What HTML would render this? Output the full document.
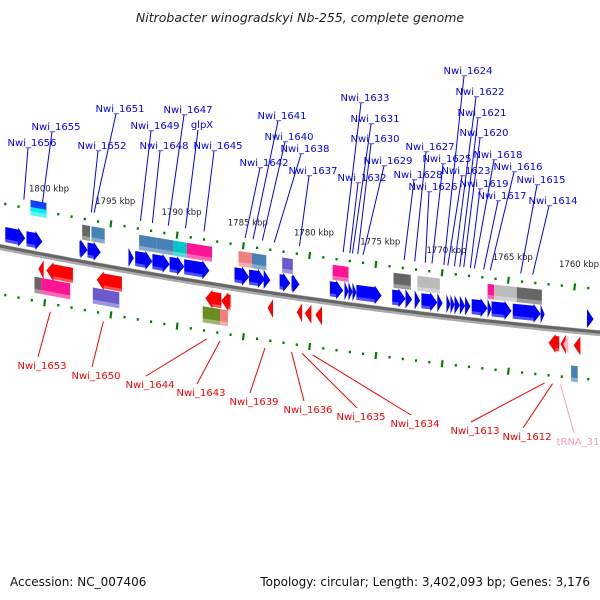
<!DOCTYPE html>
<html><head><meta charset="utf-8"><style>
html,body{margin:0;padding:0;background:#fff;}
svg{display:block;}
text{font-family:"DejaVu Sans","Liberation Sans",sans-serif;}
</style></head><body>
<svg id="map" width="600" height="600" viewBox="0 0 600 600">
<text x="300" y="22" text-anchor="middle" font-size="12.5" font-style="italic" fill="#222">Nitrobacter winogradskyi Nb-255, complete genome</text>
<text x="10" y="586" font-size="12" fill="#111">Accession: NC_007406</text>
<text x="590" y="586" text-anchor="end" font-size="12" fill="#111">Topology: circular; Length: 3,402,093 bp; Genes: 3,176</text>
<g id="g-rings"></g><g id="g-backbone"></g><g id="g-genes"></g><g id="g-labels"></g>
</svg>
<script>
// ---- data (kbp) ----
const tickStart = 1758, tickEnd = 1803;
const fwdStart = [1803.0,1801.4,1797.4,1796.8,1793.7,1793.2,1791.9,1790.6,1789.5,1785.7,1784.6,1783.5,1782.3,1781.4,1778.5,1777.4,1777.1,1776.8,1776.5,1773.8,1772.8,1772.1,1771.6,1770.4,1769.7,1769.4,1769.1,1768.7,1768.3,1767.8,1766.6,1766.3,1764.7,1762.6,1759.1];
const fwdEnd   = [1801.5,1800.2,1796.8,1795.8,1793.3,1791.9,1790.6,1789.5,1787.6,1784.6,1783.4,1783.0,1781.5,1780.8,1777.5,1777.1,1776.8,1776.5,1774.6,1772.8,1772.3,1771.7,1770.4,1770.0,1769.4,1769.1,1768.7,1768.3,1767.9,1766.6,1766.3,1764.8,1762.6,1762.3,1758.6];
const fwdBoxStart = [1801.1,1797.2,1796.5,1792.9,1791.6,1790.3,1789.3,1785.4,1784.4,1782.1,1778.3,1773.7,1771.9,1766.6,1766.1,1764.4];
const fwdBoxEnd   = [1799.9,1796.6,1795.5,1791.6,1790.3,1789.3,1787.4,1784.4,1783.3,1781.3,1777.1,1772.4,1770.2,1766.1,1764.4,1762.5];
const fwdBoxColor = ["#1040ff","#666666","#4682b4","#4682b4","#4682b4","#00c8c8","#ff1493","#f08080","#4682b4","#6a5acd","#ff1493","#666666","#bbbbbb","#ff1493","#bbbbbb","#666666"];
const revStart = [1800.5,1799.9,1796.1,1787.9,1786.7,1783.2,1781.0,1780.4,1779.6,1762.0,1761.1,1760.1];
const revEnd   = [1800.1,1797.9,1794.2,1786.7,1786.0,1782.8,1780.6,1779.9,1779.1,1761.2,1760.7,1759.6];
const revColor = ["#ff0000","#ff0000","#ff0000","#ff0000","#ff0000","#ff0000","#ff0000","#ff0000","#ff0000","#ff0000","#ff0000","#ff0000"];
const trnaStart = [1760.9], trnaEnd = [1760.5];
const revBoxStart = [1800.8,1800.3,1796.4,1788.1,1786.8,1760.3];
const revBoxEnd   = [1800.3,1798.1,1794.4,1786.8,1786.2,1759.8];
const revBoxColor = ["#666666","#ff1493","#6a5acd","#6b8e23","#f08080","#4682b4"];
const blueNames = ["Nwi_1656","Nwi_1655","Nwi_1652","Nwi_1651","Nwi_1649","Nwi_1648","Nwi_1647","glpX","Nwi_1645","Nwi_1641","Nwi_1640","Nwi_1642","Nwi_1638","Nwi_1637","Nwi_1633","Nwi_1631","Nwi_1630","Nwi_1629","Nwi_1632","Nwi_1628","Nwi_1627","Nwi_1626","Nwi_1625","Nwi_1624","Nwi_1622","Nwi_1621","Nwi_1620","Nwi_1623","Nwi_1618","Nwi_1619","Nwi_1616","Nwi_1617","Nwi_1615","Nwi_1614"];
const bluePos = [[32,142],[56,126],[102,145],[120,108],[155,125],[164,145],[188,109],[202,124],[218,145],[282,115],[289,136],[264,162],[305,148],[313,170],[365,97],[375,118],[375,138],[388,160],[362,177],[418,174],[430,146],[433,186],[447,158],[468,70],[480,91],[482,112],[484,132],[466,170],[498,154],[484,183],[518,166],[502,195],[541,179],[553,200]];
const blueTarget = [1801.6,1800.2,1796.5,1796.3,1792.8,1791.9,1790.7,1789.4,1788.0,1784.3,1783.6,1784.9,1782.7,1780.8,1777.5,1776.8,1776.4,1776.0,1777.0,1772.9,1772.1,1771.3,1770.8,1769.9,1769.1,1768.7,1768.4,1769.6,1767.6,1767.9,1766.4,1766.9,1764.1,1763.2];
const redNames = ["Nwi_1653","Nwi_1650","Nwi_1644","Nwi_1643","Nwi_1639","Nwi_1636","Nwi_1635","Nwi_1634","Nwi_1613","Nwi_1612","tRNA_31"];
const redPos = [[42,365],[96,375],[150,384],[201,392],[254,401],[308,409],[361,416],[415,423],[475,430],[527,436],[578,441]];
const redTarget = [1799.6,1795.6,1787.8,1786.8,1783.4,1781.4,1780.6,1779.8,1762.3,1761.7,1761.1];

// ---- scales ----
function X(k){ return (1803.4 - k) * 13.25; }
function B(x){ return 247 + 0.197*x - 0.0000889*x*x; }
const svg = document.getElementById('map');
const NS = 'http://www.w3.org/2000/svg';
function mk(tag, parent, attrs){ const e=document.createElementNS(NS,tag); for(const k in attrs) e.setAttribute(k,attrs[k]); parent.appendChild(e); return e; }
function P(x,off){ return x.toFixed(1)+','+(B(x)+off).toFixed(1); }

// backbone
const gb = document.getElementById('g-backbone');
let d=''; for(let x=-5;x<=605;x+=5){ d += (x===-5?'M':'L')+P(x,0)+' '; }
let bb = mk('path', gb, {d:d, stroke:'#aaaaaa', 'stroke-width':6, fill:'none'});


let bb2 = mk('path', gb, {d:d, stroke:'#666666', 'stroke-width':3, fill:'none', transform:'translate(0,-1)'});



// rings
const gr = document.getElementById('g-rings');
for(let k=tickStart;k<=tickEnd;k++){
  const x=X(k); const major = (k%5===0);
  [-44,47].forEach(function(off){
    const len = major?7:2.5;
    const t = mk('line', gr, {x1:x, y1:B(x)+off-len/2, x2:x+ (major?-0.8:0), y2:B(x)+off+len/2, stroke:'#008000', 'stroke-width':2.2});
    
    
  });
  if(major){
    const lt = mk('text', gr, {x:x+4, y:B(x)-64, 'font-size':8.5, fill:'#222', 'text-anchor':'middle'});
    lt.textContent = k+' kbp';
    
    
  }
}

// genes
const gg = document.getElementById('g-genes');
function shaded(pts, color, name){
  const p = mk('polygon', gg, {points:pts, fill:color});
  
  
}
function arrow(ks, ke, o1, o2, color, dir, name){
  let xs=X(ks), xe=X(ke); if(xs>xe){const t=xs;xs=xe;xe=t;}
  const len = xe-xs, head = Math.min(7, len), mid=(o1+o2)/2;
  let pts;
  if(dir>0) pts=[P(xs,o1),P(xe-head,o1),P(xe-head,o1-2),P(xe,mid),P(xe-head,o2+2),P(xe-head,o2),P(xs,o2)];
  else pts=[P(xe,o1),P(xs+head,o1),P(xs+head,o1-2),P(xs,mid),P(xs+head,o2+2),P(xs+head,o2),P(xe,o2)];
  shaded(pts.join(' '), color, name);
  const s = mk('polygon', gg, {points:[P(xs+(dir<0?head:0),o2-3),P(xe-(dir>0?head:0),o2-3),P(xe-(dir>0?head:0),o2),P(xs+(dir<0?head:0),o2)].join(' '), fill:'#fff', opacity:0.3});
  
  
}
function box(ks, ke, o1, o2, color, name){
  let xs=X(ks), xe=X(ke);
  shaded([P(xs,o1),P(xe,o1),P(xe,o2),P(xs,o2)].join(' '), color, name);
  const s = mk('polygon', gg, {points:[P(xs,o2-4),P(xe,o2-4),P(xe,o2),P(xs,o2)].join(' '), fill:'#fff', opacity:0.35});
  
  
}
for(let i=0;i<fwdStart.length;i++) arrow(fwdStart[i], fwdEnd[i], -21, -6, '#0000ff', 1, 'forward-gene');
for(let i=0;i<fwdBoxStart.length;i++){
  const off = i===0 ? -15 : 0;
  box(fwdBoxStart[i], fwdBoxEnd[i], -38+off, -23+off, fwdBoxColor[i], 'forward-feature');
  if(i===0) box(fwdBoxStart[i], fwdBoxEnd[i], -46, -38, '#00f0f0', 'forward-feature-part');
}
for(let i=0;i<revStart.length;i++) arrow(revStart[i], revEnd[i], 7, 22, revColor[i], -1, 'reverse-gene');
for(let i=0;i<trnaStart.length;i++) arrow(trnaStart[i], trnaEnd[i], 7, 22, '#ffb6c1', -1, 'trna-gene');
for(let i=0;i<revBoxStart.length;i++){
  const off = (i===revBoxStart.length-1) ? 12 : 0;
  box(revBoxStart[i], revBoxEnd[i], 23+off, 39+off, revBoxColor[i], 'reverse-feature');
}

// labels
const gl = document.getElementById('g-labels');
function label(name, pos, k, color, up, dname){
  const tx=X(k); const ty = up ? B(tx)-52 : B(tx)+55;
  const ly = up ? pos[1]+6 : pos[1]-8;
  const ln = mk('line', gl, {x1:pos[0]-4, y1:ly, x2:tx, y2:ty, stroke:color, 'stroke-width':1});
  
  
  const t = mk('text', gl, {x:pos[0], y:pos[1]+4, 'font-size':10, fill:color, 'text-anchor':'middle'});
  t.textContent = name;
  
  
}
for(let i=0;i<blueNames.length;i++) label(blueNames[i], bluePos[i], blueTarget[i], '#0000ff', true, 'forward-gene-label');
for(let i=0;i<redNames.length;i++) label(redNames[i], redPos[i], redTarget[i], redNames[i].indexOf('tRNA')===0?'#ff9fb0':'#ff0000', false, 'reverse-gene-label');
</script>
</body></html>
